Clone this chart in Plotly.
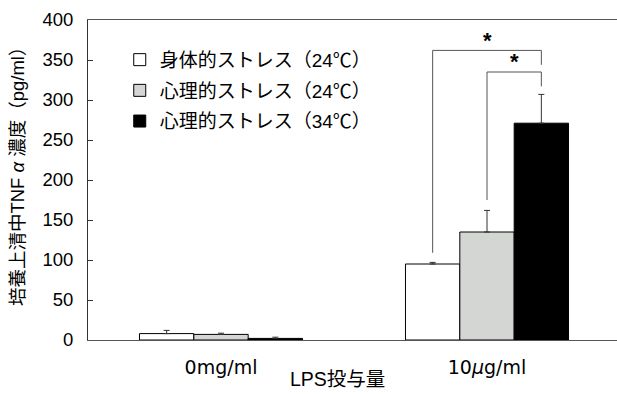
import plotly.graph_objects as go

# LPS dose groups on the x axis
doses = ["0mg/ml", "10<i>μ</i>g/ml"]
dose_pos = [0, 1]

# TNF-alpha concentration (pg/ml) per stress condition, mean and upper SD
series_names = ["身体的ストレス（24℃）", "心理的ストレス（24℃）", "心理的ストレス（34℃）"]
physical_24 = [8, 95]
physical_24_err = [4, 2]
psych_24 = [7, 135]
psych_24_err = [1.5, 27]
psych_34 = [2, 271]
psych_34_err = [1.5, 36]

fill_colors = ["#ffffff", "#d4d6d4", "#000000"]

# significance brackets: [left leg bottom, bracket top, right leg bottom]
bracket_outer = [109, 362, 344]
bracket_inner = [175, 335, 317]

y_ticks = [0, 50, 100, 150, 200, 250, 300, 350, 400]

FONT = "Liberation Sans, Noto Sans CJK JP, sans-serif"
WIDE = "DejaVu Sans, Noto Sans CJK JP, sans-serif"

fig = go.Figure()
values = [physical_24, psych_24, psych_34]
errors = [physical_24_err, psych_24_err, psych_34_err]
for i, (name, vals, errs, col) in enumerate(zip(series_names, values, errors, fill_colors)):
    fig.add_trace(go.Bar(
        x=dose_pos, y=vals, name=name,
        marker=dict(color=col, line=dict(color="#000000", width=1)),
        error_y=dict(type="data", array=errs, arrayminus=[0] * len(errs),
                     symmetric=False, color="#333333", thickness=1, width=3),
        legendgroup=str(i),
    ))

bargap = 0.387
bar_w = (1 - bargap) / 3
centers = [1 - bar_w, 1, 1 + bar_w]

# outer bracket: white bar to black bar
fig.add_trace(go.Scatter(
    x=[centers[0], centers[0], centers[2], centers[2]],
    y=[bracket_outer[0], bracket_outer[1], bracket_outer[1], bracket_outer[2]],
    mode="lines", line=dict(color="#555555", width=1), showlegend=False, hoverinfo="skip"))
# inner bracket: gray bar to black bar
fig.add_trace(go.Scatter(
    x=[centers[1], centers[1], centers[2], centers[2]],
    y=[bracket_inner[0], bracket_inner[1], bracket_inner[1], bracket_inner[2]],
    mode="lines", line=dict(color="#555555", width=1), showlegend=False, hoverinfo="skip"))

fig.add_annotation(x=(centers[0] + centers[2]) / 2, y=bracket_outer[1] + 13, text="<b>*</b>",
                   showarrow=False, xanchor="center", yanchor="middle",
                   font=dict(size=22, color="#000000", family=FONT))
fig.add_annotation(x=(centers[1] + centers[2]) / 2, y=bracket_inner[1] + 13, text="<b>*</b>",
                   showarrow=False, xanchor="center", yanchor="middle",
                   font=dict(size=22, color="#000000", family=FONT))

# axis titles
fig.add_annotation(xref="paper", yref="paper", x=-0.134, y=0.525,
                   xanchor="center", yanchor="middle",
                   text="培養上清中TNF <i>α</i> 濃度（pg/ml）", textangle=-90, showarrow=False,
                   font=dict(size=18.5, color="#000000", family=FONT))
fig.add_annotation(xref="paper", yref="paper", x=0.472, y=-0.162,
                   xanchor="center", yanchor="bottom",
                   text="LPS投与量", showarrow=False,
                   font=dict(size=19.5, color="#000000", family=FONT))

fig.update_layout(
    width=617, height=394,
    margin=dict(l=88, r=0, t=20, b=54),
    paper_bgcolor="#ffffff", plot_bgcolor="#ffffff",
    barmode="group", bargap=bargap, bargroupgap=0,
    font=dict(family=FONT, size=18, color="#000000"),
    legend=dict(x=0.06, y=0.935, xanchor="left", yanchor="top",
                font=dict(size=19, family=FONT), bgcolor="rgba(0,0,0,0)",
                traceorder="grouped", tracegroupgap=3),
    xaxis=dict(range=[-0.5, -0.5 + 529 / 266], tickvals=dose_pos, ticktext=doses,
               tickfont=dict(size=19, family=WIDE), ticklabelstandoff=10,
               showline=True, linecolor="#555555", linewidth=1, mirror=True,
               ticks="", showgrid=False, zeroline=False, fixedrange=True),
    yaxis=dict(range=[0, 400], tickvals=y_ticks, showline=True, linecolor="#333333",
               tickfont=dict(size=18.5, family=FONT), ticklabelstandoff=10,
               linewidth=1, ticks="inside", ticklen=5, tickcolor="#333333",
               showgrid=False, zeroline=False, fixedrange=True),
)

fig.write_html("out.html")
